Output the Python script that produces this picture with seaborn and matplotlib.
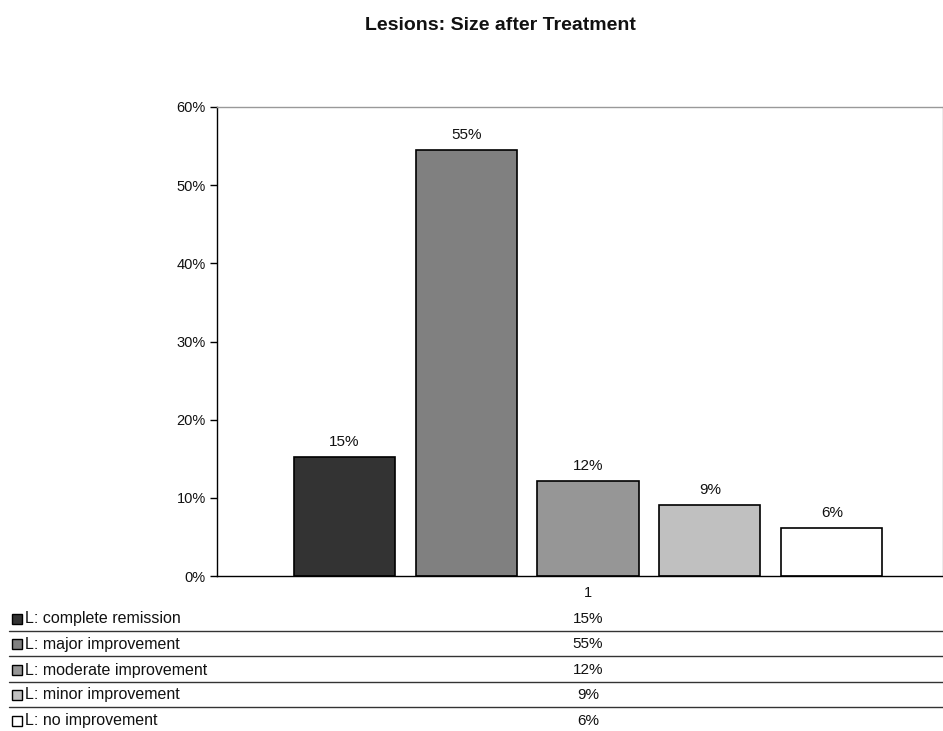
import matplotlib
matplotlib.use('Agg')
import matplotlib.pyplot as plt
from matplotlib.patches import Rectangle
from matplotlib.lines import Line2D
import seaborn as sns
import pandas as pd

# Chart data
categories = ['L: complete remission', 'L: major improvement', 'L: moderate improvement',
              'L: minor improvement', 'L: no improvement']
values = [0.152, 0.545, 0.121, 0.091, 0.061]
value_labels = ['15%', '55%', '12%', '9%', '6%']
colors = ['#333333', '#808080', '#969696', '#c0c0c0', '#ffffff']
y_ticks = [0.0, 0.1, 0.2, 0.3, 0.4, 0.5, 0.6]
y_tick_labels = ['0%', '10%', '20%', '30%', '40%', '50%', '60%']
group = '1'

sns.set_style('white')
plt.rcParams['font.family'] = ['Liberation Sans', 'DejaVu Sans']

W, H = 943, 731
fig = plt.figure(figsize=(W / 100, H / 100), dpi=100)
ax = fig.add_axes([217 / W, 1 - 576 / H, (943 - 217) / W, (576 - 107) / H])

df = pd.DataFrame({'group': [group] * len(values), 'category': categories, 'value': values})
sns.barplot(data=df, x='group', y='value', hue='category', hue_order=categories,
            palette=colors, width=0.8, gap=0.17, edgecolor='black', linewidth=1.2,
            legend=False, ax=ax)

for cont, lab in zip(ax.containers, value_labels):
    ax.bar_label(cont, labels=[lab], padding=6, fontsize=11, color='#111111')

ax.set_xlim(-0.487, 0.466)
ax.set_ylim(0, 0.6)
ax.set_yticks(y_ticks)
ax.set_yticklabels(y_tick_labels, fontsize=10.5, color='#111111')
ax.tick_params(axis='y', left=True, length=5, width=1, color='black', pad=3)
ax.tick_params(axis='x', bottom=False, labelsize=10.5, labelcolor='#111111', pad=4)
ax.set_xlabel('')
ax.set_ylabel('')

for side in ['left', 'bottom']:
    ax.spines[side].set_color('black')
    ax.spines[side].set_linewidth(1)
for side in ['top', 'right']:
    ax.spines[side].set_color('#999999')
    ax.spines[side].set_linewidth(1)

fig.text(500 / W, 1 - 26 / H, 'Lesions: Size after Treatment', ha='center', va='center',
         fontsize=14, fontweight='bold', color='#111111')

# Data table below the chart
row_y = [619, 644, 670, 695, 721]
for i, (cat, lab, col) in enumerate(zip(categories, value_labels, colors)):
    fy = 1 - row_y[i] / H
    fig.add_artist(Rectangle((12 / W, fy - 5 / H), 10 / W, 10 / H, facecolor=col,
                             edgecolor='black', linewidth=1, transform=fig.transFigure))
    fig.text(25 / W, fy, cat, ha='left', va='center', fontsize=11.5, color='#111111')
    fig.text(588 / W, fy, lab, ha='center', va='center', fontsize=11, color='#111111')
    if i < len(categories) - 1:
        ly = 1 - (row_y[i] + 12) / H
        fig.add_artist(Line2D([9 / W, 1], [ly, ly], color='#333333', linewidth=1,
                              transform=fig.transFigure))

fig.savefig('out.png', dpi=100)
